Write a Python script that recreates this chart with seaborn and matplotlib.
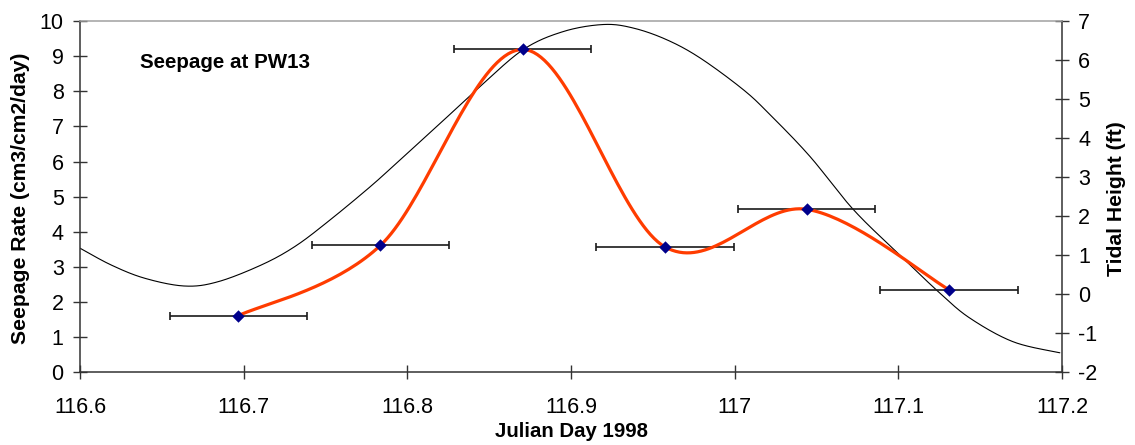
import numpy as np
import matplotlib
matplotlib.use("Agg")
import matplotlib.pyplot as plt
import seaborn as sns
import pandas as pd

# ---- data ----
day = [116.6967, 116.7835, 116.8705, 116.9574, 117.0439, 117.1310]
seepage = [1.61, 3.61, 9.19, 3.57, 4.64, 2.35]
day_err = [0.042, 0.042, 0.042, 0.042, 0.042, 0.042]

tide_day = [116.600, 116.619, 116.6395, 116.664, 116.6843, 116.7108, 116.7312,
            116.7515, 116.7772, 116.7955, 116.8222, 116.8444, 116.8709, 116.8953,
            116.9198, 116.938, 116.9585, 116.979, 117.0053, 117.0216, 117.046,
            117.0725, 117.101, 117.1256, 117.144, 117.1703, 117.1987]
tide_ft = [1.18, 0.75, 0.41, 0.21, 0.32, 0.75, 1.22,
           1.86, 2.75, 3.44, 4.46, 5.32, 6.27, 6.73,
           6.91, 6.82, 6.52, 6.05, 5.24, 4.60, 3.53,
           2.17, 1.00, 0.02, -0.62, -1.22, -1.50]

x_ticks = [116.6, 116.7, 116.8, 116.9, 117.0, 117.1, 117.2]
x_tick_labels = ["116.6", "116.7", "116.8", "116.9", "117", "117.1", "117.2"]


def smooth(x, y, n=40):
    """Excel-style smoothed line (Bezier through the points)."""
    P = np.column_stack([np.asarray(x, float), np.asarray(y, float)])
    ext = np.vstack([P[0], P, P[-1]])
    out = []
    t = np.linspace(0, 1, n)[:, None]
    for i in range(len(P) - 1):
        p0, p1, p2, p3 = ext[i], ext[i + 1], ext[i + 2], ext[i + 3]
        c1 = p1 + (p2 - p0) / 6.0
        c2 = p2 - (p3 - p1) / 6.0
        seg = (1 - t) ** 3 * p1 + 3 * (1 - t) ** 2 * t * c1 + 3 * (1 - t) * t ** 2 * c2 + t ** 3 * p2
        out.append(seg if i == 0 else seg[1:])
    return np.vstack(out)


sns.set_theme(style="white")
plt.rcParams['font.family'] = ['Liberation Sans', 'DejaVu Sans']
plt.rcParams['axes.unicode_minus'] = False
FS_TICK = 15.5
FS_LAB = 15.2

fig = plt.figure(figsize=(11.35, 4.45), dpi=100)
ax = fig.add_axes([80 / 1135, 1 - 372.3 / 445, (1062 - 80) / 1135, (372.3 - 21) / 445])
ax2 = ax.twinx()
ax.set_zorder(ax2.get_zorder() + 1)
ax.patch.set_visible(False)

# tide curve
ts = smooth(tide_day, tide_ft)
tide_df = pd.DataFrame({"day": ts[:, 0], "tide": ts[:, 1]})
sns.lineplot(data=tide_df, x="day", y="tide", ax=ax2, color="black", lw=0.8, sort=False)

# seepage smoothed line
ss = smooth(day, seepage)
seep_df = pd.DataFrame({"day": ss[:, 0], "seep": ss[:, 1]})
sns.lineplot(data=seep_df, x="day", y="seep", ax=ax, color="#ff3c00", lw=2.3, sort=False, zorder=3)

# error bars
ax.errorbar(day, seepage, xerr=day_err, fmt="none", ecolor="#1a1a1a", elinewidth=1.2,
            capsize=3, capthick=1.2, zorder=2)
pts = pd.DataFrame({"day": day, "seep": seepage})
sns.scatterplot(data=pts, x="day", y="seep", ax=ax, marker="D", s=40, color="#00008b",
                edgecolor="#00008b", linewidth=0, zorder=4)

ax.set_xlim(116.6, 117.2)
ax.set_ylim(0, 10)
ax2.set_ylim(-2, 7)
ax.set_xticks(x_ticks)
ax.set_xticklabels(x_tick_labels)
ax.set_yticks(range(0, 11))
ax2.set_yticks(range(-2, 8))
ax.set_xlabel("")
ax.set_ylabel("")
ax2.set_ylabel("")
ax.grid(False)
ax2.grid(False)

for a in (ax, ax2):
    for s in a.spines.values():
        s.set_visible(False)
ax.spines['left'].set_visible(True)
ax.spines['bottom'].set_visible(True)
ax2.spines['right'].set_visible(True)
ax.spines['top'].set_visible(True)
for sp in ['left', 'bottom']:
    ax.spines[sp].set_color("#333333")
    ax.spines[sp].set_linewidth(1.1)
ax2.spines['right'].set_color("#333333")
ax2.spines['right'].set_linewidth(1.1)
ax.spines['top'].set_color("#a0a0a0")
ax.spines['top'].set_linewidth(1.1)

ax.tick_params(axis='both', which='major', direction='inout', length=9.5, width=1.0,
               color="#333333", labelsize=FS_TICK, labelcolor="black", left=True, bottom=True)
ax.tick_params(axis='y', pad=7)
ax.tick_params(axis='x', pad=13)
ax2.tick_params(axis='y', direction='inout', length=9.5, width=1.0, color="#333333",
                labelsize=FS_TICK, labelcolor="black", right=True, pad=7)

ax.text(0.061, 0.883, "Seepage at PW13", transform=ax.transAxes, fontsize=14.8,
        fontweight='bold', ha='left', va='center', color="black")
fig.text(21 / 1135, 0.555, "Seepage Rate (cm3/cm2/day)", rotation=90, ha='center',
         va='center', fontsize=FS_LAB, fontweight='bold', color="black")
fig.text(1117 / 1135, 0.554, "Tidal Height (ft)", rotation=90, ha='center',
         va='center', fontsize=FS_LAB, fontweight='bold', color="black")
fig.text(571 / 1135, 0.030, "Julian Day 1998", ha='center', va='center',
         fontsize=14.7, fontweight='bold', color="black")

fig.savefig("out.png", dpi=100, facecolor="white")
